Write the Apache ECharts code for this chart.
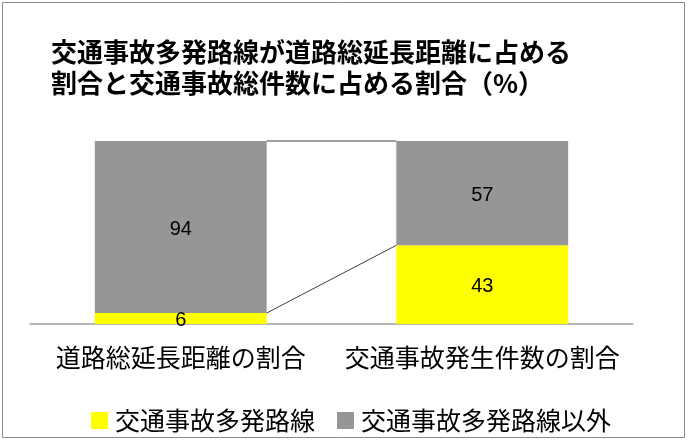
<!DOCTYPE html>
<html>
<head>
<meta charset="utf-8">
<script src="https://cdn.jsdelivr.net/npm/echarts@6/dist/echarts.min.js"></script>
<style>
html,body{margin:0;padding:0;background:#fff;}
#chart{width:690px;height:443px;}
</style>
</head>
<body>
<div id="chart"></div>
<script>
var titleText = '交通事故多発路線が道路総延長距離に占める\n割合と交通事故総件数に占める割合（%）';
var categories = ['道路総延長距離の割合', '交通事故発生件数の割合'];
var seriesNames = ['交通事故多発路線', '交通事故多発路線以外'];
var accidentShare = [6, 43];
var otherShare = [94, 57];
var seriesColors = ['#ffff00', '#969696'];

var stacks = [accidentShare, otherShare];
var barRatio = 0.57;

// connector data: for each stack level and each adjacent category pair
var connectorData = [];
var cum = categories.map(function () { return 0; });
stacks.forEach(function (vals) {
  cum = cum.map(function (c, i) { return c + vals[i]; });
  for (var i = 0; i < categories.length - 1; i++) {
    connectorData.push([i, cum[i], i + 1, cum[i + 1]]);
  }
});

var chart = echarts.init(document.getElementById('chart'));
var font = '"Noto Sans CJK JP", "Noto Sans", sans-serif';

var option = {
  animation: false,
  backgroundColor: '#fff',
  title: {
    text: titleText,
    left: 46,
    top: 32,
    textStyle: {
      fontFamily: font,
      fontSize: 26,
      fontWeight: 'bold',
      color: '#000',
      lineHeight: 31
    }
  },
  graphic: [{
    type: 'rect',
    shape: { x: 2.5, y: 2.5, width: 682, height: 435 },
    style: { fill: 'none', stroke: '#8a8a8a', lineWidth: 1 },
    silent: true
  }],
  legend: {
    data: seriesNames,
    left: 86,
    top: 403,
    icon: 'rect',
    itemWidth: 17,
    itemHeight: 17,
    itemGap: 22,
    textStyle: { fontFamily: font, fontSize: 25, color: '#000', padding: [0, 0, 0, 2] }
  },
  grid: { left: 30, right: 57, top: 141, bottom: 119 },
  xAxis: {
    type: 'category',
    data: categories,
    axisTick: { show: false },
    axisLine: { lineStyle: { color: '#a0a0a0', width: 1.5 } },
    axisLabel: { interval: 0, fontFamily: font, fontSize: 25, color: '#000', margin: 21 }
  },
  yAxis: {
    type: 'value',
    min: 0,
    max: 100,
    show: false,
    splitLine: { show: false }
  },
  series: [
    {
      name: seriesNames[0],
      type: 'bar',
      stack: 'total',
      data: accidentShare,
      barWidth: (barRatio * 100) + '%',
      itemStyle: { color: seriesColors[0] },
      label: { show: true, position: 'inside', offset: [0, 2], color: '#000', fontSize: 20, fontFamily: 'Liberation Sans, Arial, sans-serif' }
    },
    {
      name: seriesNames[1],
      type: 'bar',
      stack: 'total',
      data: otherShare,
      barWidth: (barRatio * 100) + '%',
      itemStyle: { color: seriesColors[1] },
      label: { show: true, position: 'inside', offset: [0, 2], color: '#000', fontSize: 20, fontFamily: 'Liberation Sans, Arial, sans-serif' }
    },
    {
      name: 'connector',
      type: 'custom',
      z: 3,
      silent: true,
      encode: { x: [0, 2], y: [1, 3] },
      data: connectorData,
      renderItem: function (params, api) {
        var bw = api.size([1, 0])[0] * barRatio;
        var p1 = api.coord([api.value(0), api.value(1)]);
        var p2 = api.coord([api.value(2), api.value(3)]);
        return {
          type: 'line',
          shape: { x1: p1[0] + bw / 2, y1: p1[1], x2: p2[0] - bw / 2, y2: p2[1] },
          style: { stroke: '#404040', lineWidth: 1 }
        };
      }
    }
  ]
};
chart.setOption(option);
</script>
</body>
</html>
